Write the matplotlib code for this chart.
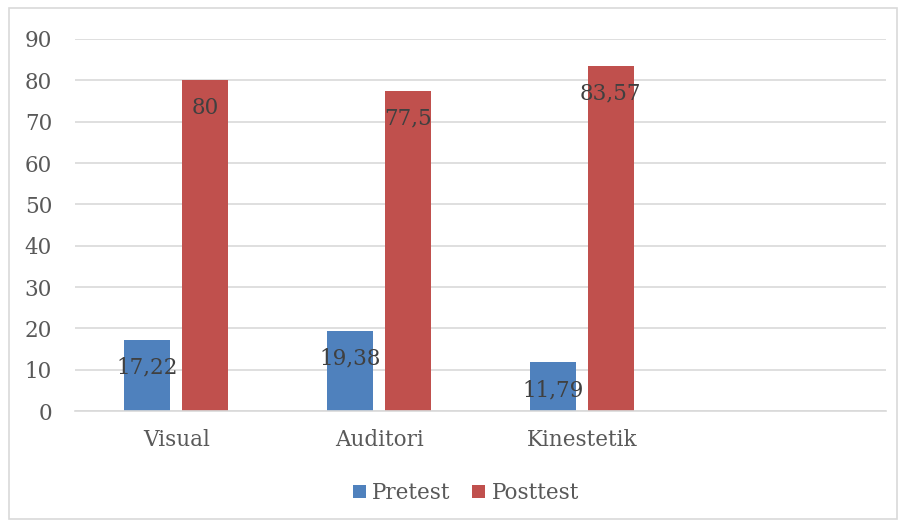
import matplotlib.pyplot as plt
from matplotlib.patches import Rectangle
import numpy as np

categories = ['Visual', 'Auditori', 'Kinestetik', '']
pretest = [17.22, 19.38, 11.79]
posttest = [80, 77.5, 83.57]
pre_labels = ['17,22', '19,38', '11,79']
post_labels = ['80', '77,5', '83,57']

plt.rcParams['font.family'] = ['DejaVu Serif']

fig = plt.figure(figsize=(9.04, 5.27), dpi=100)
ax = fig.add_axes([75 / 904, 1 - 411 / 527, 811 / 904, 372 / 527])

# outer chart border
fig.patches.append(Rectangle((9 / 904, 8 / 527), 888 / 904, 511 / 527,
                             transform=fig.transFigure, fill=False,
                             edgecolor='#D9D9D9', linewidth=1.2))

x = np.arange(len(pretest))
w = 0.227
off = 0.143
b1 = ax.bar(x - off, pretest, w, color='#4F81BD', label='Pretest')
b2 = ax.bar(x + off, posttest, w, color='#C0504D', label='Posttest')

# value labels just inside the bar tops
for bars, labels in [(b1, pre_labels), (b2, post_labels)]:
    for bar, lab in zip(bars, labels):
        ax.annotate(lab, (bar.get_x() + bar.get_width() / 2, bar.get_height()),
                    xytext=(0, -28), textcoords='offset pixels',
                    ha='center', va='center', fontsize=15.5, color='#404040')

ax.set_xlim(-0.5, 3.5)
ax.set_ylim(0, 90)
ax.set_yticks(range(0, 91, 10))
ax.set_xticks(range(len(categories)))
ax.set_xticklabels(categories)
ax.yaxis.grid(True, color='#D9D9D9', linewidth=1.2)
ax.set_axisbelow(True)
for s in ['top', 'right', 'left']:
    ax.spines[s].set_visible(False)
ax.spines['bottom'].set_color('#D9D9D9')
ax.spines['bottom'].set_linewidth(1.2)
ax.tick_params(axis='both', length=0, labelsize=15.5, colors='#595959')
ax.tick_params(axis='y', pad=16.5)
ax.tick_params(axis='x', pad=13)

fig.legend(loc='center', bbox_to_anchor=(466 / 904, 1 - 493 / 527), ncol=2,
           frameon=False, fontsize=15.5, handlelength=0.6, handleheight=0.6,
           handletextpad=0.3, columnspacing=1.0, labelcolor='#595959')

fig.savefig('out.png', dpi=100)
